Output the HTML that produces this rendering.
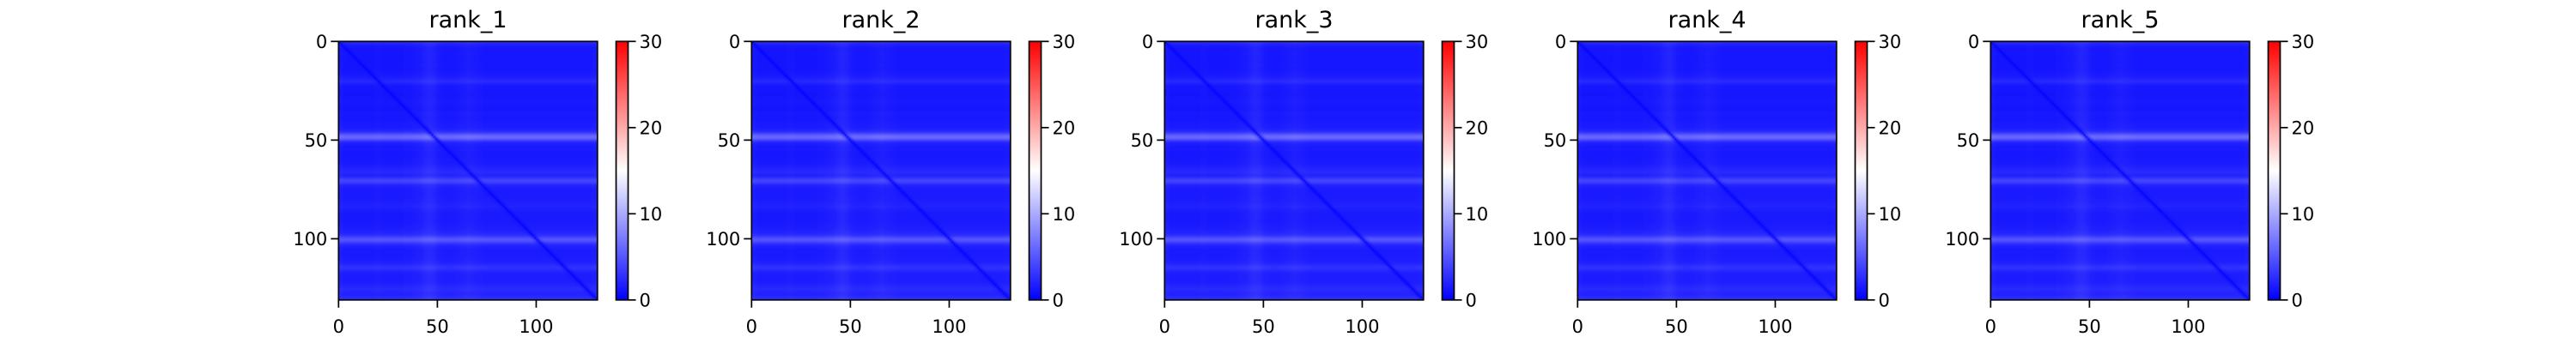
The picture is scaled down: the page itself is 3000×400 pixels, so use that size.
<!DOCTYPE html>
<html><head><meta charset="utf-8"><style>
html,body{margin:0;padding:0;background:#fff;width:3000px;height:400px;overflow:hidden}
#root{position:relative;width:3000px;height:400px}
svg{position:absolute;left:0;top:0}
canvas{position:absolute;image-rendering:auto}
text{font-family:"DejaVu Sans","Liberation Sans",sans-serif;fill:#000}
</style></head><body>
<div id="root">
<svg id="svg" width="3000" height="400"></svg>
</div>
<script>
// ---- data ----
const panelTitles = ["rank_1","rank_2","rank_3","rank_4","rank_5"];
const matrixSize = 131;
const baseValue = 1.0;
const diagValue = 0.2;
const rowBoost = [1.5,0.8,0.4,0.2,0.2,0.2,0.3,0.2,0.2,0.2,0.2,0.2,0.3,0.2,0.2,0.3,0.4,0.5,0.7,1.1,1.3,0.8,0.4,0.3,0.3,0.2,0.2,0.2,0.3,0.3,
0.4,0.3,0.3,0.2,0.2,0.3,0.4,0.4,0.3,0.3,0.4,0.5,0.5,0.6,0.8,1.3,2.6,4.4,5.2,4.2,2.0,0.9,0.6,0.4,0.4,0.4,0.3,0.3,0.3,0.4,
0.4,0.5,0.6,0.8,1.0,1.2,1.3,1.0,1.2,2.3,3.0,2.5,1.3,0.8,0.6,0.5,0.5,0.5,0.5,0.6,0.6,0.7,0.8,1.0,0.8,0.6,0.5,0.4,0.4,0.4,
0.4,0.4,0.5,0.6,0.6,0.8,1.0,1.3,2.0,3.4,4.0,3.0,1.7,1.0,0.7,0.5,0.5,0.5,0.5,0.6,0.6,0.8,1.0,1.5,1.9,1.5,1.0,0.7,0.6,0.6,
0.6,0.6,0.8,1.0,1.2,1.4,1.2,1.0,1.1,1.4,1.6];
const colBoost = [0.4,0.2,0.1,0.0,0.0,0.0,0.0,0.0,0.0,0.0,0.0,0.0,0.0,0.0,0.0,0.0,0.0,0.0,0.1,0.1,0.1,0.1,0.0,0.0,0.0,0.0,0.0,0.0,0.0,0.0,
0.0,0.0,0.0,0.1,0.1,0.1,0.1,0.2,0.2,0.3,0.3,0.4,0.5,0.7,0.8,0.9,0.9,0.8,0.7,0.5,0.3,0.2,0.2,0.1,0.1,0.1,0.1,0.1,0.1,0.2,
0.2,0.3,0.3,0.4,0.4,0.5,0.5,0.4,0.4,0.3,0.3,0.2,0.2,0.1,0.1,0.1,0.1,0.1,0.1,0.1,0.1,0.1,0.1,0.1,0.1,0.1,0.1,0.1,0.1,0.1,
0.1,0.1,0.1,0.1,0.1,0.1,0.1,0.1,0.1,0.1,0.1,0.1,0.1,0.1,0.1,0.1,0.1,0.1,0.1,0.1,0.1,0.1,0.1,0.1,0.1,0.1,0.1,0.1,0.1,0.1,
0.1,0.1,0.1,0.1,0.1,0.1,0.1,0.1,0.2,0.2,0.3];
const axisTicks = [0,50,100];
const cbarTicks = [0,10,20,30];
const vmin = 0, vmax = 30;

// ---- layout ----
const NS = "http://www.w3.org/2000/svg";
const svg = document.getElementById('svg');
const root = document.getElementById('root');
const panelStep = 481, hmLeft0 = 394.3, hmTop = 48.3, hmSize = 301.5;
const cbW = 14, cbGap = 21.7;

function bwr(v){
  let t = Math.max(0, Math.min(1, (v - vmin)/(vmax - vmin)));
  let r,g,b;
  if (t < 0.5){ r = g = Math.round(2*t*255); b = 255; }
  else { r = 255; g = b = Math.round((1-2*(t-0.5))*255); }
  return [r,g,b];
}
function el(tag, attrs, parent){
  const e = document.createElementNS(NS, tag);
  for (const k in attrs) e.setAttribute(k, attrs[k]);
  (parent||svg).appendChild(e); return e;
}
function cellValue(i,j){
  if (i === j) return diagValue;
  const d = Math.abs(i-j);
  const att = d < 3 ? 0.4 + 0.2*d : 1;
  return baseValue * (d < 2 ? 0.8 : 1) + (rowBoost[i] + colBoost[j]) * att;
}

panelTitles.forEach((title, p) => {
  const x0 = hmLeft0 + p*panelStep;
  const g = el('g', {});
  
  
  const sx = v => x0 + (v + 0.5) / matrixSize * hmSize;
  const sy = v => hmTop + (v + 0.5) / matrixSize * hmSize;
  const cv = document.createElement('canvas');
  cv.width = matrixSize; cv.height = matrixSize;
  cv.style.left = x0 + 'px'; cv.style.top = hmTop + 'px';
  cv.style.width = hmSize + 'px'; cv.style.height = hmSize + 'px';
  
  
  const ctx = cv.getContext('2d');
  const img = ctx.createImageData(matrixSize, matrixSize);
  for (let i=0;i<matrixSize;i++) for (let j=0;j<matrixSize;j++){
    const c = bwr(cellValue(i,j)); const k = (i*matrixSize+j)*4;
    img.data[k]=c[0]; img.data[k+1]=c[1]; img.data[k+2]=c[2]; img.data[k+3]=255;
  }
  ctx.putImageData(img,0,0);
  root.appendChild(cv);
  const t = el('text', {x: x0 + hmSize/2, y: 32, 'text-anchor':'middle', 'font-size':'27'}, g);
  t.textContent = title;
  
  
  axisTicks.forEach(v => {
    const xt = sx(v) - (hmSize/matrixSize)*0.5;
    const yt = sy(v) - (hmSize/matrixSize)*0.5;
    el('line', {x1: xt, x2: xt, y1: hmTop+hmSize, y2: hmTop+hmSize+9, stroke:'#000','stroke-width':1.7}, g);
    const xl = el('text', {x: xt, y: hmTop+hmSize+38, 'text-anchor':'middle','font-size':'21'}, g);
    xl.textContent = v;
    
    
    el('line', {x1: x0-9, x2: x0, y1: yt, y2: yt, stroke:'#000','stroke-width':1.7}, g);
    const yl = el('text', {x: x0-13, y: yt+7.5, 'text-anchor':'end','font-size':'21'}, g);
    yl.textContent = v;
    
    
  });
  const cbx = x0 + hmSize + cbGap;
  const gid = 'cbg' + p;
  const defs = el('defs', {}, g);
  const lg = el('linearGradient', {id: gid, x1:0, y1:1, x2:0, y2:0}, defs);
  [0,0.25,0.5,0.75,1].forEach(s => { const c = bwr(vmin + s*(vmax-vmin)); el('stop', {offset: s, 'stop-color': `rgb(${c})`}, lg); });
  const cb = el('rect', {x: cbx, y: hmTop, width: cbW, height: hmSize, fill: `url(#${gid})`, stroke:'#000', 'stroke-width':1.7}, g);
  
  
  const cy = v => hmTop + hmSize - (v - vmin)/(vmax - vmin)*hmSize;
  cbarTicks.forEach(v => {
    el('line', {x1: cbx+cbW, x2: cbx+cbW+9, y1: cy(v), y2: cy(v), stroke:'#000','stroke-width':1.7}, g);
    const cl = el('text', {x: cbx+cbW+13, y: cy(v)+7.5, 'font-size':'21'}, g);
    cl.textContent = v;
    
    
  });
});
const ov = document.createElementNS(NS, 'svg');
ov.setAttribute('width', 3000); ov.setAttribute('height', 400);


root.appendChild(ov);
panelTitles.forEach((title, p) => {
  const x0 = hmLeft0 + p*panelStep;
  const fr = el('rect', {x: x0, y: hmTop, width: hmSize, height: hmSize, fill:'none', stroke:'#000', 'stroke-width':1.7}, ov);
  
  
});
</script>
</body></html>
